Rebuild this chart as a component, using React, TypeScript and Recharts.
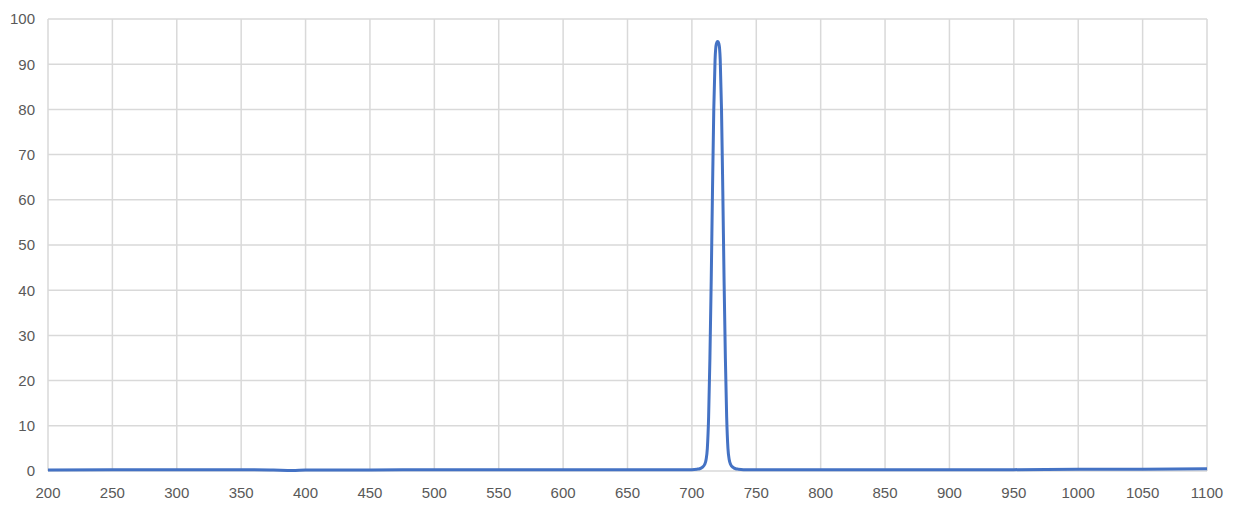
import React from 'react';
import { LineChart, Line, XAxis, YAxis, CartesianGrid } from 'recharts';

// wavelength (nm) and transmission (%)
const wavelengths = [
  200, 250, 300, 350, 375, 390, 400, 450, 500, 550, 600, 650, 680, 700, 704, 706, 708, 710, 711, 712, 713, 714,
  715, 716, 717, 718, 719, 720, 721, 722, 723, 724, 725, 726, 727, 728, 729, 730, 732, 734, 736, 740, 760,
  800, 850, 900, 950, 1000, 1050, 1100,
];
const transmission = [
  0.2, 0.3, 0.3, 0.3, 0.2, 0.1, 0.2, 0.2, 0.3, 0.3, 0.3, 0.3, 0.3, 0.3, 0.4, 0.5, 0.8, 1.5, 2.5, 5, 12, 25,
  42, 62, 80, 91, 94.5, 95, 94.5, 91, 80, 62, 42, 25, 12, 5, 2.5, 1.5, 0.8, 0.5, 0.4, 0.3, 0.3,
  0.3, 0.3, 0.3, 0.3, 0.4, 0.4, 0.5,
];
const xTicks = [200, 250, 300, 350, 400, 450, 500, 550, 600, 650, 700, 750, 800, 850, 900, 950, 1000, 1050, 1100];
const yTicks = [0, 10, 20, 30, 40, 50, 60, 70, 80, 90, 100];

const data = wavelengths.map((w, i) => ({ w, t: transmission[i] }));

const tickStyle = { fill: '#595959', fontSize: 15, fontFamily: '"Liberation Sans", Arial, sans-serif' };

export default function App() {
  return (
    <div style={{ width: 1233, height: 514, background: '#fff' }}>
      <style>{'body{margin:0}'}</style>
      <LineChart width={1233} height={514} data={data} margin={{ top: 19, right: 26, left: 0, bottom: 0 }}>
        <CartesianGrid stroke="#d9d9d9" strokeWidth={1.5} />
        <XAxis
          dataKey="w"
          type="number"
          domain={[200, 1100]}
          ticks={xTicks}
          interval={0}
          height={43}
          axisLine={false}
          tickLine={false}
          tickSize={0}
          tickMargin={16}
          tick={tickStyle}
        />
        <YAxis
          type="number"
          domain={[0, 100]}
          ticks={yTicks}
          interval={0}
          width={48}
          axisLine={false}
          tickLine={false}
          tickSize={0}
          tickMargin={13}
          tick={tickStyle}
        />
        <Line
          dataKey="t"
          type="monotone"
          stroke="#4472C4"
          strokeWidth={3}
          dot={false}
          isAnimationActive={false}
        />
      </LineChart>
    </div>
  );
}
